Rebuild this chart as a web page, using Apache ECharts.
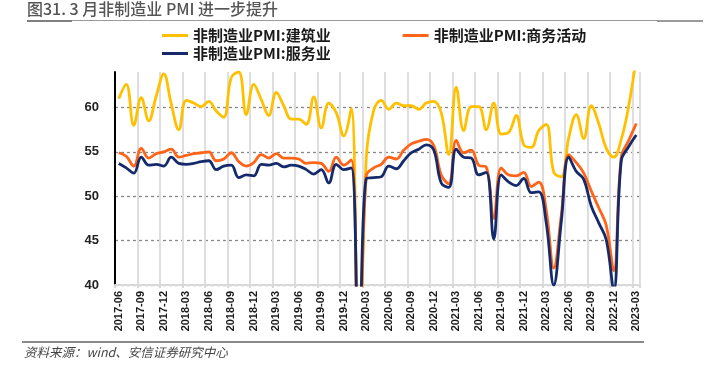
<!DOCTYPE html>
<html><head><meta charset="utf-8">
<script src="https://cdn.jsdelivr.net/npm/echarts@6/dist/echarts.min.js"></script>
<style>html,body{margin:0;padding:0;background:#fff}#c{width:711px;height:370px}</style>
</head><body><div id="c"></div>
<script>
const months = ['2017-06','2017-07','2017-08','2017-09','2017-10','2017-11','2017-12',
'2018-01','2018-02','2018-03','2018-04','2018-05','2018-06','2018-07','2018-08','2018-09','2018-10','2018-11','2018-12',
'2019-01','2019-02','2019-03','2019-04','2019-05','2019-06','2019-07','2019-08','2019-09','2019-10','2019-11','2019-12',
'2020-01','2020-02','2020-03','2020-04','2020-05','2020-06','2020-07','2020-08','2020-09','2020-10','2020-11','2020-12',
'2021-01','2021-02','2021-03','2021-04','2021-05','2021-06','2021-07','2021-08','2021-09','2021-10','2021-11','2021-12',
'2022-01','2022-02','2022-03','2022-04','2022-05','2022-06','2022-07','2022-08','2022-09','2022-10','2022-11','2022-12',
'2023-01','2023-02','2023-03'];

const construction = [61.0,62.6,58.0,61.1,58.5,61.3,63.8,
60.4,57.5,60.8,60.5,60.1,60.7,59.6,58.9,63.4,64.0,59.2,62.6,
60.9,59.1,61.7,60.2,58.7,58.7,58.1,61.2,57.7,60.5,59.4,56.8,
59.9,26.6,54.3,59.7,60.8,59.8,60.5,60.2,60.2,59.8,60.5,60.7,
59.4,54.7,62.3,57.4,60.1,60.1,57.5,60.5,57.0,57.2,59.1,55.8,
55.5,57.4,58.1,52.7,52.2,56.6,59.2,56.5,60.2,58.2,55.4,54.4,
56.4,60.2,65.6];

const business = [54.9,54.5,53.4,55.4,54.3,54.8,55.0,
55.3,54.4,54.6,54.8,54.9,55.0,54.0,54.2,54.9,53.9,53.4,53.8,
54.7,54.3,54.8,54.3,54.3,54.2,53.7,53.8,53.7,52.8,54.4,53.5,
54.1,29.6,52.3,53.2,53.6,54.4,54.2,55.2,55.9,56.2,56.4,55.7,
52.4,51.4,56.3,54.9,55.2,53.5,53.3,47.5,53.2,52.4,52.3,52.7,
51.1,51.6,48.4,41.9,47.8,54.7,53.8,52.6,50.6,48.7,46.7,41.6,
54.4,56.3,58.2];

const services = [53.7,53.2,52.6,54.4,53.5,53.6,53.4,
54.4,53.7,53.6,53.7,53.9,54.0,53.0,53.4,53.5,52.1,52.4,52.3,
53.6,53.5,53.7,53.3,53.5,53.4,53.0,52.5,53.0,51.5,53.6,53.0,
53.2,30.1,52.0,52.1,52.2,53.4,53.1,54.0,54.9,55.3,55.8,55.2,
51.5,51.0,55.3,54.4,54.3,52.4,52.7,45.2,52.4,51.6,51.2,52.0,
50.4,50.5,47.0,40.0,47.1,54.4,52.8,51.9,48.9,47.0,45.1,39.4,
54.0,55.6,56.9];

const seriesNames = ['非制造业PMI:建筑业','非制造业PMI:商务活动','非制造业PMI:服务业'];
const seriesColors = ['#FFC000','#FF6418','#142A6B'];
const yMin = 40, yMax = 64, yStep = 5;

const chart = echarts.init(document.getElementById('c'), null, {renderer:'canvas'});
const legendText = {fontSize:15, fontWeight:'bold', color:'#1a1a1a', fontFamily:'Noto Sans CJK SC'};
const mk = (name, data, color) => ({
  name, type:'line', data, smooth:0.4, showSymbol:false, symbol:'none',
  lineStyle:{width:2.8, color}, itemStyle:{color}, clip:true, animation:false
});
chart.setOption({
  animation:false,
  grid:{left:115, right:71, top:72, bottom:85},
  legend:[
    {data:[seriesNames[0], seriesNames[1]], left:157, top:23, itemGap:72, itemWidth:26, itemHeight:3, icon:'rect', textStyle:legendText},
    {data:[seriesNames[2]], left:157, top:41, itemWidth:26, itemHeight:3, icon:'rect', textStyle:legendText}
  ],
  xAxis:{
    type:'category', data:months, boundaryGap:true,
    axisLine:{lineStyle:{color:'#D9D9D9', width:2}},
    axisTick:{show:true, interval:2, length:3, lineStyle:{color:'#D9D9D9', width:2}},
    axisLabel:{interval:2, rotate:90, fontSize:11, fontWeight:'bold', color:'#1a1a1a', fontFamily:'Liberation Sans', margin:6},
    splitLine:{show:true, interval:2, lineStyle:{color:'#DEDEDE', width:2}}
  },
  yAxis:{
    type:'value', min:yMin, max:yMax, interval:yStep,
    axisLine:{show:true, lineStyle:{color:'#000', width:2}},
    axisTick:{show:false},
    axisLabel:{fontSize:13, fontWeight:'bold', color:'#222', fontFamily:'Liberation Sans', margin:16, showMaxLabel:false},
    splitLine:{show:true, showMaxLine:false, lineStyle:{type:[3,3], color:['#888','#888','#888','#888','#888','rgba(0,0,0,0)'], width:1.3}}
  },
  series:[
    mk(seriesNames[0], construction, seriesColors[0]),
    mk(seriesNames[1], business, seriesColors[1]),
    mk(seriesNames[2], services, seriesColors[2])
  ],
  graphic:[
    {type:'text', left:27, top:1, style:{text:'图31. 3 月非制造业 PMI 进一步提升', font:'500 16px "Noto Sans CJK SC"', fill:'#555'}},
    {type:'rect', shape:{x:27, y:20, width:676, height:1}, style:{fill:'#9a9a9a'}},
    {type:'rect', shape:{x:27, y:20, width:45, height:2}, style:{fill:'#808080'}},
    {type:'rect', shape:{x:657, y:20, width:46, height:2}, style:{fill:'#9a9a9a'}},
    {type:'rect', shape:{x:22, y:341, width:622, height:2}, style:{fill:'#8a8a8a'}},
    {type:'text', left:24, top:346, style:{text:'资料来源：wind、安信证券研究中心', font:'italic 12.5px "Noto Sans CJK SC"', fill:'#444'}}
  ]
});
</script></body></html>
